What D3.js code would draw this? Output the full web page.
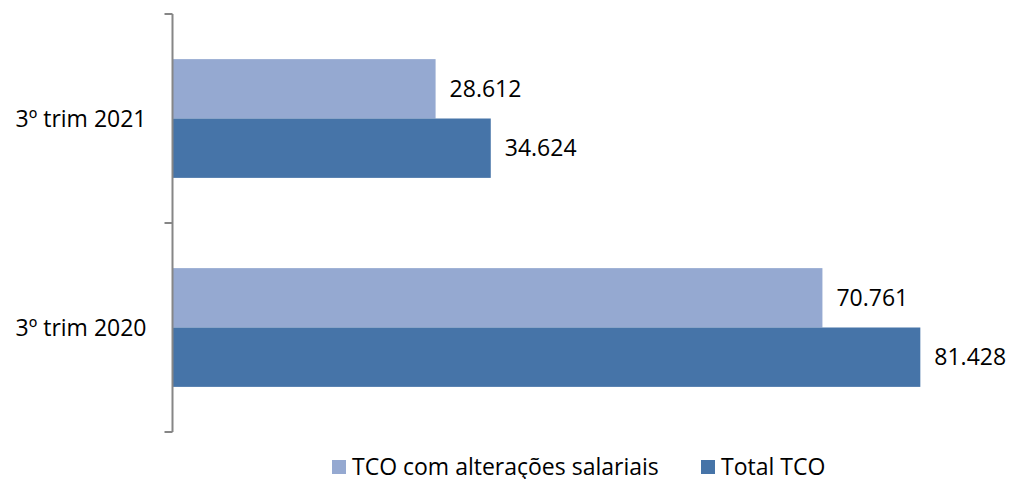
<!DOCTYPE html>
<html>
<head>
<meta charset="utf-8">
<script src="https://cdn.jsdelivr.net/npm/d3@7"></script>
<style>
  body { margin: 0; background: #fff; }
  text { font-family: "Open Sans", "Noto Sans", sans-serif; fill: #000; }
</style>
</head>
<body>
<div id="chart"></div>
<script>
const w = 1012;
const h = 479;

// data
const categories = ["3º trim 2021", "3º trim 2020"];
const seriesNames = ["TCO com alterações salariais", "Total TCO"];
const salariais = [28.612, 70.761];
const totalTCO = [34.624, 81.428];
const colors = ["#95a9d1", "#4674a8"];

const seriesValues = [salariais, totalTCO];
const fmt = v => v.toFixed(3);

const svg = d3.select("#chart")
  .append("svg")
  .attr("width", w)
  .attr("height", h);

// scales
const x = d3.scaleLinear().domain([0, 90]).range([173, 999]);
const y = d3.scaleBand().domain(categories).range([14, 432]).padding(0);
const ySub = d3.scaleBand().domain(seriesNames)
  .range([0, y.bandwidth()])
  .paddingInner(0)
  .paddingOuter(0.76);

// bars
const groups = svg.selectAll(".cat")
  .data(categories)
  .enter().append("g")
  .attr("class", "cat")
  .attr("transform", d => `translate(0,${y(d)})`);

groups.selectAll("rect")
  .data((d, i) => seriesNames.map((s, j) => ({ s: s, v: seriesValues[j][i], j: j })))
  .enter().append("rect")
  .attr("x", x(0))
  .attr("y", d => ySub(d.s))
  .attr("width", d => x(d.v) - x(0))
  .attr("height", ySub.bandwidth())
  .attr("fill", d => colors[d.j]);

// value labels
groups.selectAll(".val")
  .data((d, i) => seriesNames.map((s, j) => ({ s: s, v: seriesValues[j][i] })))
  .enter().append("text")
  .attr("class", "val")
  .attr("x", d => x(d.v) + 14)
  .attr("y", d => ySub(d.s) + ySub.bandwidth() / 2)
  .attr("dy", "0.36em")
  .style("font-size", "23px")
  .text(d => fmt(d.v));

// vertical axis line + ticks at band boundaries
const axis = svg.append("g").attr("class", "axis");
const ax = x(0) - 0.5;
axis.append("line")
  .attr("x1", ax).attr("x2", ax)
  .attr("y1", y.range()[0]).attr("y2", y.range()[1])
  .attr("stroke", "#868686").attr("stroke-width", 2);
const bounds = categories.map(c => y(c)).concat([y.range()[1]]);
axis.selectAll(".tick")
  .data(bounds)
  .enter().append("line")
  .attr("x1", ax - 8).attr("x2", ax)
  .attr("y1", d => d).attr("y2", d => d)
  .attr("stroke", "#868686").attr("stroke-width", 2);

// category labels
axis.selectAll(".cat-label")
  .data(categories)
  .enter().append("text")
  .attr("x", ax - 26)
  .attr("y", d => y(d) + y.bandwidth() / 2)
  .attr("dy", "0.36em")
  .attr("text-anchor", "end")
  .style("font-size", "23px")
  .text(d => d);

// legend
const legendX = [332, 701];
const legend = svg.append("g").attr("id", "legend");
const item = legend.selectAll("g")
  .data(seriesNames)
  .enter().append("g")
  .attr("transform", (d, i) => `translate(${legendX[i]},460)`);
item.append("rect")
  .attr("width", 14).attr("height", 14)
  .attr("fill", (d, i) => colors[i]);
item.append("text")
  .attr("x", 20)
  .attr("y", 7)
  .attr("dy", "0.36em")
  .style("font-size", "23px")
  .text(d => d);
</script>
</body>
</html>
